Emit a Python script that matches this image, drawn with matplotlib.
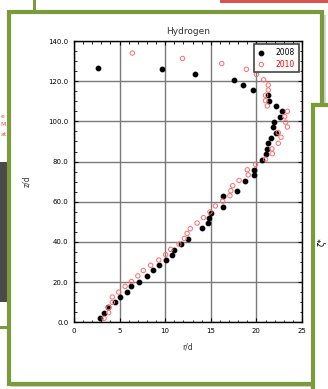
import matplotlib.pyplot as plt
from matplotlib.patches import Rectangle
from matplotlib.ticker import MultipleLocator
import numpy as np

# data (r/d vs z/d)
z_2008 = [2.0, 4.8, 7.4, 9.9, 12.6, 15.0, 17.9, 20.3, 23.1, 25.8, 28.4, 31.0, 33.6, 36.2,
          38.9, 41.5, 46.7, 49.5, 52.0, 54.6, 57.4, 62.7, 65.3, 70.5, 73.4, 75.8, 81.0,
          83.9, 86.3, 89.1, 91.8, 94.3, 97.1, 99.5, 102.4, 105.0, 107.7, 110.3, 113.0,
          115.4, 118.1, 120.7, 123.4, 126.0, 126.5]
r_2008 = [2.9, 3.3, 3.7, 4.5, 5.0, 5.8, 6.3, 7.1, 8.0, 8.7, 9.3, 10.1, 10.8, 11.0,
          11.7, 12.5, 14.0, 14.7, 14.8, 15.0, 16.3, 16.3, 17.9, 18.75, 19.7, 19.7, 20.6,
          21.1, 21.2, 21.3, 21.6, 22.1, 21.8, 21.9, 22.6, 22.8, 22.15, 21.4, 21.3,
          19.6, 18.5, 17.5, 13.3, 9.6, 2.6]

z_2010 = [2.0, 4.8, 7.3, 9.9, 12.6, 15.0, 17.9, 20.3, 23.1, 25.8, 28.4, 31.0, 33.7, 36.3,
          38.9, 41.7, 44.2, 46.6, 49.4, 52.1, 54.9, 57.9, 60.3, 63.0, 65.5, 68.0, 70.6,
          73.4, 75.9, 78.6, 81.2, 83.9, 86.3, 89.1, 92.1, 94.4, 97.2, 99.6, 102.4, 105.0,
          107.7, 110.3, 113.0, 115.6, 118.1, 120.7, 123.4, 125.9, 128.8, 131.3, 134.0]
r_2010 = [3.3, 3.8, 3.8, 4.2, 4.2, 4.9, 5.6, 6.3, 7.0, 7.6, 8.4, 9.3, 10.05, 10.6,
          11.5, 12.1, 12.4, 12.75, 13.5, 14.2, 14.9, 15.5, 16.3, 17.1, 17.2, 17.4, 18.1,
          19.1, 19.0, 19.9, 21.0, 21.75, 21.7, 22.4, 22.7, 22.4, 23.4, 23.2, 23.1, 23.4,
          21.2, 21.0, 21.0, 21.3, 21.3, 20.8, 20.0, 18.9, 16.2, 11.9, 6.4]

W, H = 328, 389
fig = plt.figure(figsize=(W / 100, H / 100), dpi=100)
fig.patch.set_facecolor("white")

green = "#7b9a3c"


def px_rect(x0, y0, x1, y1, **kw):
    # rectangle given in pixel coords with origin at the top left
    fig.patches.append(Rectangle((x0 / W, 1 - y1 / H), (x1 - x0) / W, (y1 - y0) / H,
                                 transform=fig.transFigure, **kw))


# slide decorations around the chart
px_rect(220, -5, 335, 2.5, facecolor="#d9534f", edgecolor="none")
px_rect(33, -5, 36, 10, facecolor=green, edgecolor="none")
px_rect(0, 162, 8, 302, facecolor="#4a4a4a", edgecolor="none")
px_rect(-5, 326, 10, 329, facecolor=green, edgecolor="none")
px_rect(11, 15, 326, 387, facecolor="#d6d6d6", edgecolor="none")
px_rect(9, 11.5, 322, 383.5, facecolor="white", edgecolor=green, linewidth=3)
px_rect(313, 105, 340, 395, facecolor="white", edgecolor=green, linewidth=3)
for i, t in enumerate(["e", "M", "at"]):
    fig.text(0.5 / W, 1 - (116 + i * 9) / H, t, color="#d9534f", fontsize=4.5,
             va="center", ha="left")
fig.text(322 / W, 1 - 242 / H, "ζ*", fontsize=6, rotation=90, ha="center", va="center")

ax = fig.add_axes([74 / W, 1 - 322.3 / H, (302 - 74) / W, (322.3 - 41) / H])
ax.set_zorder(5)
ax.scatter(r_2008, z_2008, s=10, color="black", label="2008", zorder=3)
ax.scatter(r_2010, z_2010, s=10, facecolors="none", edgecolors="#ff6b6b",
           linewidths=0.7, label="2010", zorder=3)

ax.set_xlim(0, 25)
ax.set_ylim(0, 140)
ax.xaxis.set_major_locator(MultipleLocator(5))
ax.xaxis.set_minor_locator(MultipleLocator(1))
ax.yaxis.set_major_locator(MultipleLocator(20))
ax.yaxis.set_minor_locator(MultipleLocator(5))
ax.set_yticks(np.arange(0, 141, 20))
ax.set_yticklabels([f"{v:.1f}" for v in np.arange(0, 141, 20)])
ax.tick_params(which="both", direction="in", top=True, right=True, labelsize=5,
               color="black", pad=4)
ax.tick_params(which="major", length=3, width=0.8)
ax.tick_params(which="minor", length=1.8, width=0.6)
ax.grid(True, which="major", color="#7a7a7a", linewidth=1.0)
for s in ax.spines.values():
    s.set_linewidth(1.0)

ax.set_title("Hydrogen", fontsize=6.5, pad=5, color="#333333")
ax.set_xlabel("r/d", fontsize=5.5, labelpad=6, color="#333333")
ax.set_ylabel("z/d", fontsize=5.5, labelpad=12, color="#333333")

leg = ax.legend(loc="upper right", fontsize=5.5, frameon=True, fancybox=False,
                handletextpad=1.4, borderpad=0.5, labelspacing=0.35, handlelength=1.0,
                borderaxespad=0.4, framealpha=1)
leg.get_frame().set_edgecolor("#444444")
leg.get_frame().set_linewidth(1.2)
leg.texts[1].set_color("red")

fig.savefig("out.png", dpi=100)
